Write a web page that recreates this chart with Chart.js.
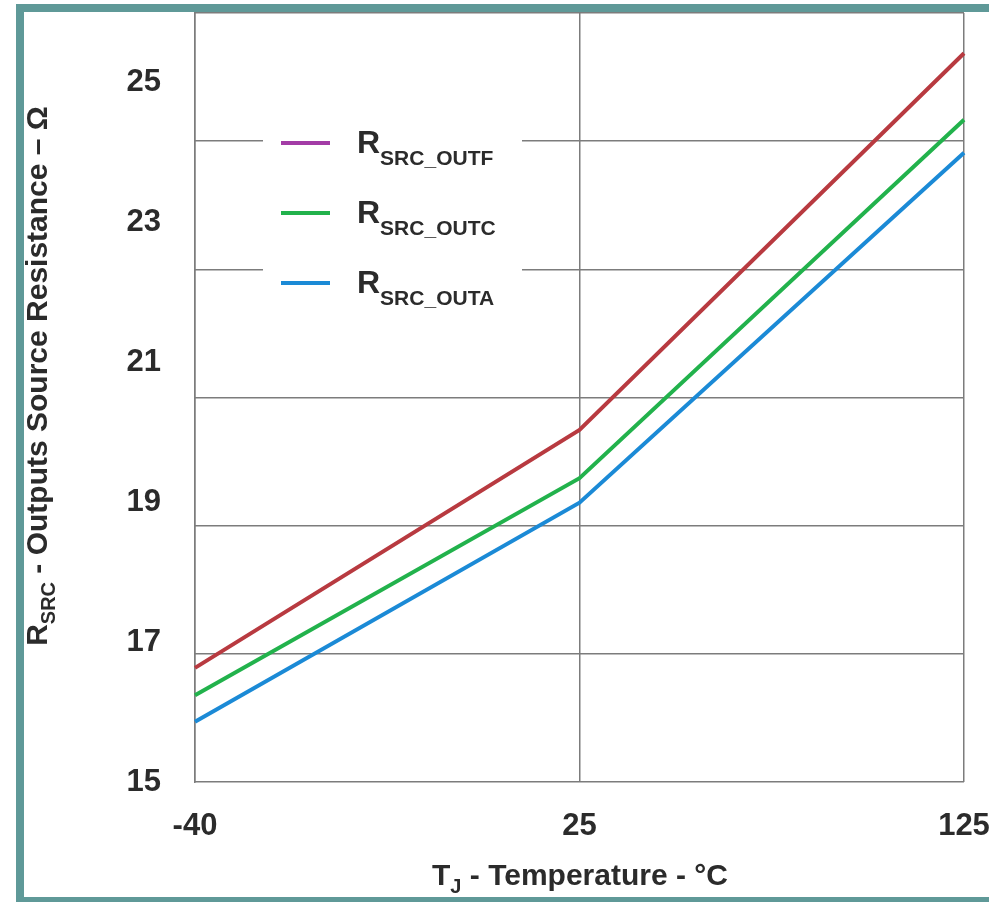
<!DOCTYPE html>
<html>
<head>
<meta charset="utf-8">
<script src="https://cdn.jsdelivr.net/npm/chart.js@4/dist/chart.umd.min.js"></script>
<style>
  html, body { margin: 0; padding: 0; background: #fff; }
  canvas { display: block; }
</style>
</head>
<body>
<canvas id="chart" width="989" height="902"></canvas>
<script>
// temperature categories (the original chart spaces them evenly)
const temps = ["-40", "25", "125"];

// source resistance, ohms
const outF = [16.63, 20.03, 25.41];
const outC = [16.24, 19.34, 24.46];
const outA = [15.86, 18.99, 23.99];

const yTicks = [15, 17, 19, 21, 23, 25];
const seriesSubs = ["SRC_OUTF", "SRC_OUTC", "SRC_OUTA"];
const legendColors = ["#a33ca6", "#22b24c", "#1b8ad6"];

const FONT = "'Liberation Sans', Arial, sans-serif";
const TEXT = "#2b2b2b";
const GRID = "#7c7c7c";
const TEAL = "#5f9998";

// draws text with a subscript part; x is start, y is baseline
function drawSub(ctx, x, y, main, sub, after, big, small, drop) {
  ctx.font = `bold ${big}px ${FONT}`;
  ctx.fillText(main, x, y);
  x += ctx.measureText(main).width;
  ctx.font = `bold ${small}px ${FONT}`;
  ctx.fillText(sub, x, y + drop);
  x += ctx.measureText(sub).width;
  if (after) {
    ctx.font = `bold ${big}px ${FONT}`;
    ctx.fillText(after, x, y);
  }
}

function subWidth(ctx, main, sub, after, big, small) {
  ctx.font = `bold ${big}px ${FONT}`;
  let w = ctx.measureText(main).width + (after ? ctx.measureText(after).width : 0);
  ctx.font = `bold ${small}px ${FONT}`;
  return w + ctx.measureText(sub).width;
}

const extras = {
  id: "extras",
  afterDatasetsDraw(chart) {
    const ctx = chart.ctx;
    ctx.save();
    ctx.textBaseline = "alphabetic";
    ctx.textAlign = "left";

    // legend box (covers the grid)
    ctx.fillStyle = "#fff";
    ctx.fillRect(263, 110, 259, 208);
    chart.data.datasets.forEach((ds, i) => {
      const yLine = 143 + i * 70;
      ctx.strokeStyle = legendColors[i];
      ctx.lineWidth = 4;
      ctx.beginPath();
      ctx.moveTo(281, yLine);
      ctx.lineTo(330, yLine);
      ctx.stroke();
      ctx.fillStyle = TEXT;
      drawSub(ctx, 357, yLine + 10, "R", seriesSubs[i], "", 32, 21, 12);
    });

    // x axis title
    const xt = ["T", "J", " - Temperature - °C"];
    const wx = subWidth(ctx, xt[0], xt[1], xt[2], 30, 20);
    drawSub(ctx, 580 - wx / 2, 885, xt[0], xt[1], xt[2], 30, 20, 8);

    // y axis title, rotated
    const yt = ["R", "SRC", " - Outputs Source Resistance – Ω"];
    ctx.translate(47, 376);
    ctx.rotate(-Math.PI / 2);
    const wy = subWidth(ctx, yt[0], yt[1], yt[2], 30, 20);
    drawSub(ctx, -wy / 2, 0, yt[0], yt[1], yt[2], 30, 20, 8);
    ctx.restore();
  },
  afterDraw(chart) {
    const ctx = chart.ctx;
    ctx.save();
    ctx.fillStyle = TEAL;
    ctx.fillRect(16, 4, 8, 898);
    ctx.fillRect(16, 4, 973, 8);
    ctx.fillRect(16, 897, 973, 5);
    ctx.restore();
  }
};

new Chart(document.getElementById("chart"), {
  type: "line",
  data: {
    labels: temps,
    datasets: [
      { label: "R_SRC_OUTF", data: outF, borderColor: "#b83a40" },
      { label: "R_SRC_OUTC", data: outC, borderColor: "#22b24c" },
      { label: "R_SRC_OUTA", data: outA, borderColor: "#1b8ad6" }
    ]
  },
  options: {
    responsive: false,
    animation: false,
    layout: { padding: { left: 0, top: 13, right: 25, bottom: 0 } },
    elements: {
      line: { borderWidth: 4, tension: 0 },
      point: { radius: 0 }
    },
    plugins: { legend: { display: false }, tooltip: { enabled: false } },
    scales: {
      x: {
        type: "category",
        offset: false,
        grid: { color: GRID, lineWidth: 1.5, drawTicks: false },
        border: { display: false },
        ticks: {
          color: TEXT,
          font: { family: FONT, size: 31, weight: "bold" },
          padding: 26,
          maxRotation: 0
        },
        afterFit(s) { s.height = 120; s.paddingLeft = 0; s.paddingRight = 0; }
      },
      y: {
        min: 15,
        max: 15 + 769 / 70,
        grid: { display: false, drawTicks: false },
        border: { display: true, color: GRID, width: 1.5 },
        ticks: {
          color: TEXT,
          font: { family: FONT, size: 31, weight: "bold" },
          padding: 34
        },
        afterBuildTicks(s) { s.ticks = yTicks.map(v => ({ value: v })); },
        afterFit(s) { s.width = 195; s.paddingTop = 0; s.paddingBottom = 0; }
      },
      yg: {
        position: "left",
        min: 0,
        max: 6,
        ticks: { display: false, stepSize: 1 },
        grid: { color: GRID, lineWidth: 1.5, drawTicks: false },
        border: { display: false },
        afterFit(s) { s.width = 0; s.paddingTop = 0; s.paddingBottom = 0; }
      }
    }
  },
  plugins: [extras]
});
</script>
</body>
</html>
